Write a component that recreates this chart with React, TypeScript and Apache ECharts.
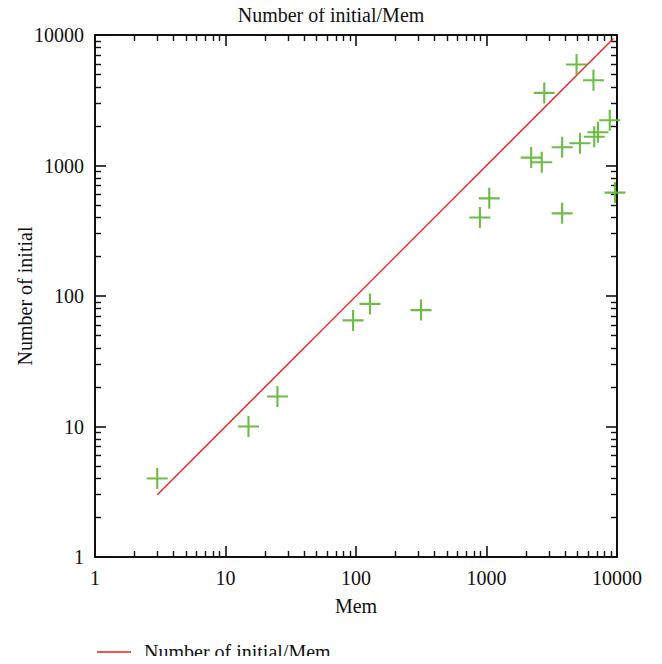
import React, { useEffect, useRef } from "react";
import * as echarts from "echarts";

const memValues = [3, 15, 25, 95, 128, 315, 890, 1050, 2200, 2650, 2770, 3800, 3800, 4900, 5200, 6600, 6700, 7150, 8800, 9650];
const initialValues = [4, 10, 17, 65, 87, 78, 400, 560, 1150, 1060, 3600, 1380, 430, 5950, 1480, 4500, 1660, 1800, 2220, 620];
const refLineX = [3, 9400];
const refLineY = [3, 9400];
const titleText = "Number of initial/Mem";
const xName = "Mem";
const yName = "Number of initial";

const FONT = "Liberation Serif";

export default function App() {
  const ref = useRef<HTMLDivElement>(null);
  useEffect(() => {
    if (!ref.current) return;
    const chart = echarts.init(ref.current, undefined, { renderer: "svg" });
    const axisCommon = (show: boolean, margin: number) => ({
      type: "log" as const,
      logBase: 10,
      min: 1,
      max: 10000,
      axisLine: { show: true, onZero: false, lineStyle: { color: "#111", width: 2 } },
      axisTick: { show: true, inside: true, length: 11, lineStyle: { color: "#111", width: 1.6 } },
      minorTick: { show: true, splitNumber: 9, length: 6, lineStyle: { color: "#111", width: 1.4 } },
      splitLine: { show: false },
      minorSplitLine: { show: false },
      axisLabel: {
        show,
        margin,
        color: "#111",
        fontFamily: FONT,
        fontSize: 20,
        formatter: (v: number) => String(Math.round(v)),
      },
    });
    chart.setOption({
      animation: false,
      title: {
        text: titleText,
        left: "center",
        top: 0,
        textStyle: { fontFamily: FONT, fontSize: 20, fontWeight: "normal", color: "#111" },
      },
      grid: { left: 95, right: 45, top: 35, bottom: 107, containLabel: false, outerBoundsMode: "none" },
      legend: {
        left: 97,
        top: 642,
        padding: 0,
        icon: "rect",
        itemWidth: 34,
        itemHeight: 1.6,
        itemGap: 12,
        data: [titleText],
        textStyle: { fontFamily: FONT, fontSize: 20, color: "#111", padding: [0, 0, 0, 8] },
      },
      xAxis: [
        {
          ...axisCommon(true, 11),
          position: "bottom",
          name: xName,
          nameLocation: "middle",
          nameGap: 39,
          nameMoveOverlap: false,
          nameTextStyle: { fontFamily: FONT, fontSize: 20, color: "#111" },
        },
        { ...axisCommon(false, 8), position: "top" },
      ],
      yAxis: [
        {
          ...axisCommon(true, 11),
          position: "left",
          name: yName,
          nameLocation: "middle",
          nameGap: 60,
          nameMoveOverlap: false,
          nameTextStyle: { fontFamily: FONT, fontSize: 20, color: "#111" },
        },
        { ...axisCommon(false, 8), position: "right" },
      ],
      series: [
        {
          name: titleText,
          type: "line",
          data: refLineX.map((x, i) => [x, refLineY[i]]),
          symbol: "none",
          lineStyle: { color: "#ee1c1c", width: 1.3 },
          itemStyle: { color: "#ee1c1c" },
          z: 3,
        },
        {
          name: "points",
          type: "scatter",
          data: memValues.map((x, i) => [x, initialValues[i]]),
          symbol: "path://M9,0h2v20h-2z M0,9h20v2h-20z",
          symbolSize: 21,
          itemStyle: { color: "#5cb531", opacity: 0.9 },
          z: 4,
        },
      ],
    });
    return () => chart.dispose();
  }, []);
  return <div ref={ref} style={{ width: 662, height: 664, margin: -8 }} />;
}
